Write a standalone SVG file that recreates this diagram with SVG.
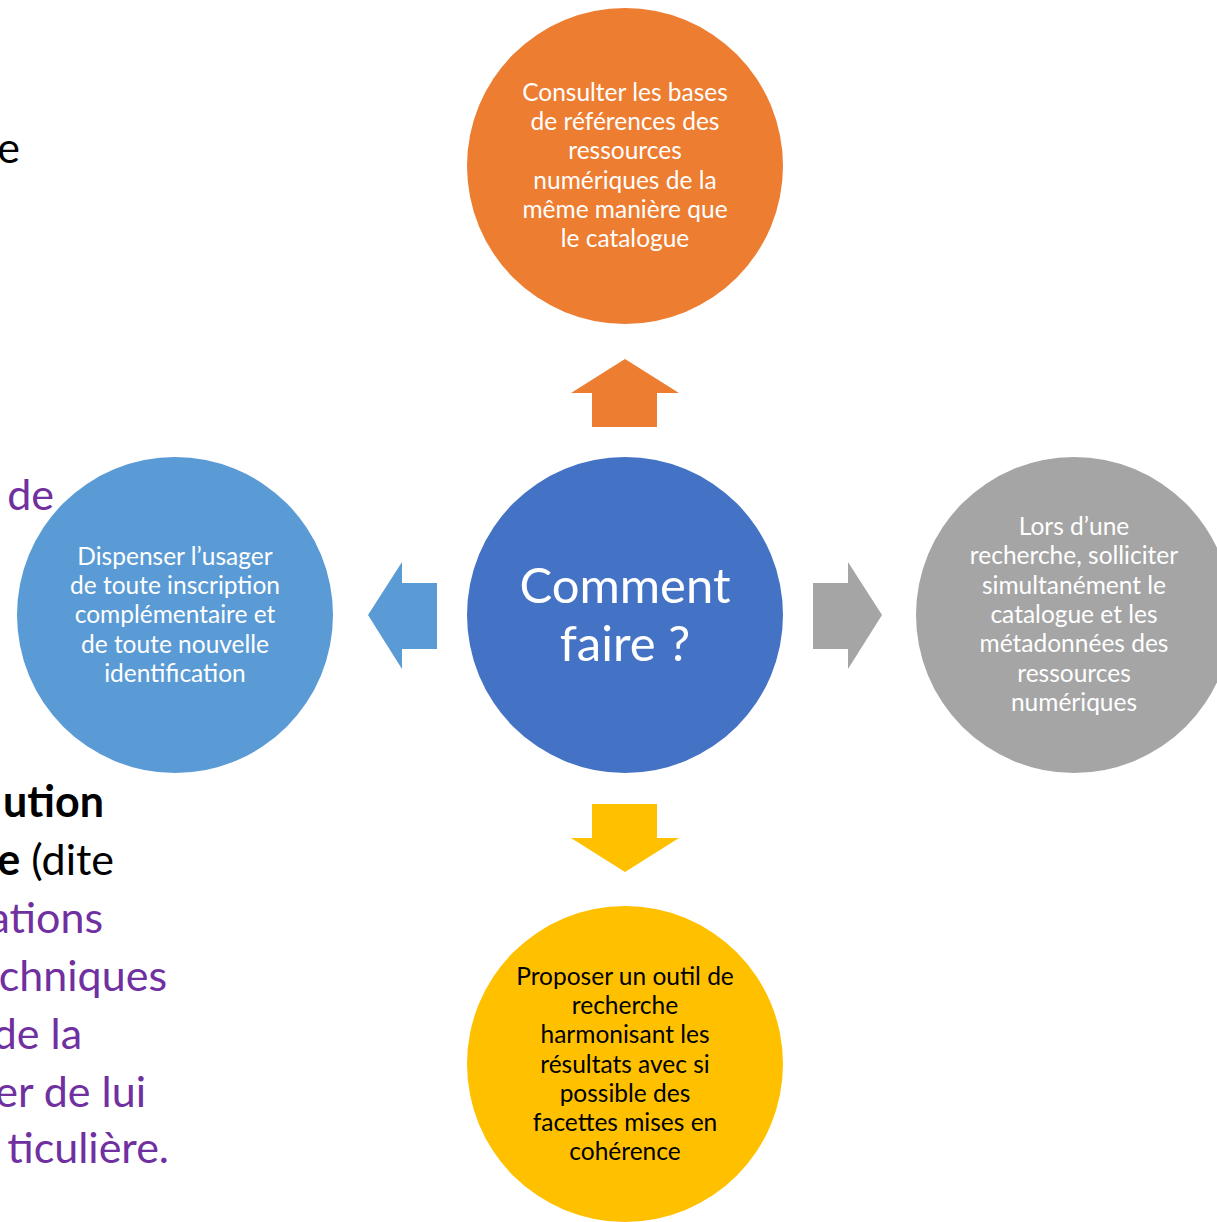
<svg xmlns="http://www.w3.org/2000/svg" width="1217" height="1222" viewBox="0 0 1217 1222">
<style>
.bg{font-family:Lato,"Open Sans","Liberation Sans",sans-serif;font-size:43px;text-anchor:end}
.pu{fill:#7030A0}
.bk{fill:#000}
.b{font-weight:bold}
.t{font-family:Lato,"Open Sans","Liberation Sans",sans-serif;font-size:24.5px;text-anchor:middle;fill:#fff}
.dk{fill:#000}
.c{font-family:Lato,"Open Sans","Liberation Sans",sans-serif;font-size:49px;text-anchor:middle;fill:#fff}
</style>
<rect width="1217" height="1222" fill="#fff"/>
<g id="background-text">
<text class="bg bk" x="20" y="163">e</text>
<text class="bg pu" x="54" y="510">de</text>
<text class="bg bk b" x="104" y="817">ution</text>
<text class="bg bk" x="114" y="875"><tspan class="b">e</tspan> (dite</text>
<text class="bg pu" x="103" y="933">ations</text>
<text class="bg pu" x="167" y="991">chniques</text>
<text class="bg pu" x="82" y="1049">de la</text>
<text class="bg pu" x="146" y="1107">er de lui</text>
<text class="bg pu" x="169" y="1163">ticulière.</text>
</g>
<g id="connectors">
<polygon points="625,359 679,393 657,393 657,427 592,427 592,393 571,393" fill="#ED7D31"/>
<polygon points="368,615 402,562 402,583 437,583 437,649 402,649 402,669" fill="#5B9BD5"/>
<polygon points="882,615 848,562 848,583 813,583 813,649 848,649 848,669" fill="#A5A5A5"/>
<polygon points="625,872 679,838 657,838 657,804 592,804 592,838 571,838" fill="#FFC000"/>
</g>
<g id="node-top">
<circle cx="625" cy="166" r="158" fill="#ED7D31"/>
<text class="t"><tspan x="625" y="101">Consulter les bases</tspan><tspan x="625" y="130">de références des</tspan><tspan x="625" y="159">ressources</tspan><tspan x="625" y="189">numériques de la</tspan><tspan x="625" y="218">même manière que</tspan><tspan x="625" y="247">le catalogue</tspan></text>
</g>
<g id="node-left">
<circle cx="175" cy="615" r="158" fill="#5B9BD5"/>
<text class="t"><tspan x="175" y="565">Dispenser l’usager</tspan><tspan x="175" y="594">de toute inscription</tspan><tspan x="175" y="623">complémentaire et</tspan><tspan x="175" y="653">de toute nouvelle</tspan><tspan x="175" y="682">identification</tspan></text>
</g>
<g id="node-right">
<circle cx="1074" cy="615" r="158" fill="#A5A5A5"/>
<text class="t"><tspan x="1074" y="535">Lors d’une</tspan><tspan x="1074" y="564">recherche, solliciter</tspan><tspan x="1074" y="594">simultanément le</tspan><tspan x="1074" y="623">catalogue et les</tspan><tspan x="1074" y="652">métadonnées des</tspan><tspan x="1074" y="682">ressources</tspan><tspan x="1074" y="711">numériques</tspan></text>
</g>
<g id="node-bottom">
<circle cx="625" cy="1064" r="158" fill="#FFC000"/>
<text class="t dk"><tspan x="625" y="985">Proposer un outil de</tspan><tspan x="625" y="1014">recherche</tspan><tspan x="625" y="1043">harmonisant les</tspan><tspan x="625" y="1073">résultats avec si</tspan><tspan x="625" y="1102">possible des</tspan><tspan x="625" y="1131">facettes mises en</tspan><tspan x="625" y="1160">cohérence</tspan></text>
</g>
<g id="node-center">
<circle cx="625" cy="615" r="158" fill="#4472C4"/>
<text class="c"><tspan x="625" y="603">Comment</tspan><tspan x="625" y="661">faire ?</tspan></text>
</g>
</svg>
